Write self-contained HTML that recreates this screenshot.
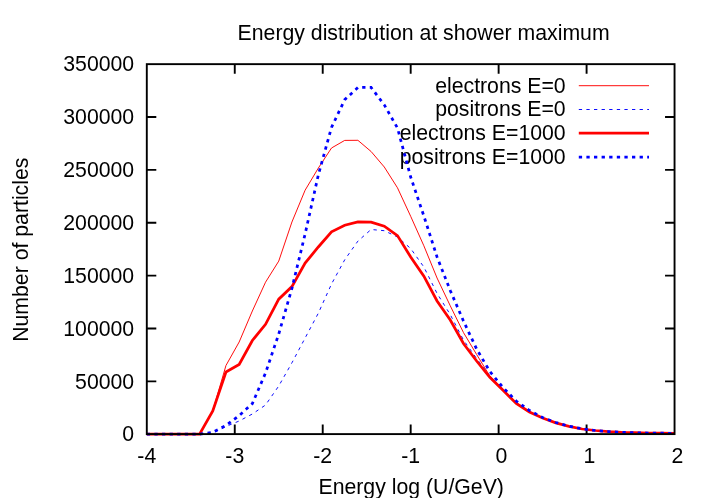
<!DOCTYPE html>
<html><head><meta charset="utf-8"><title>Energy distribution at shower maximum</title>
<style>html,body{margin:0;padding:0;background:#fff;overflow:hidden}body{width:709px;height:498px;position:relative;font-family:"Liberation Sans",sans-serif}</style></head>
<body>
<svg width="709" height="498" viewBox="0 0 709 498" style="position:absolute;left:0;top:0;will-change:transform">
<rect x="0" y="0" width="709" height="498" fill="#fff"/>
<g font-family="&quot;Liberation Sans&quot;, sans-serif" font-size="21.25" fill="#000">
<text x="134.2" y="441.4" text-anchor="end" >0</text>
<text x="134.2" y="388.5" text-anchor="end" >50000</text>
<text x="134.2" y="335.6" text-anchor="end" >100000</text>
<text x="134.2" y="282.7" text-anchor="end" >150000</text>
<text x="134.2" y="229.9" text-anchor="end" >200000</text>
<text x="134.2" y="177.0" text-anchor="end" >250000</text>
<text x="134.2" y="124.1" text-anchor="end" >300000</text>
<text x="134.2" y="71.2" text-anchor="end" >350000</text>
<text x="146.8" y="462.6" text-anchor="middle" >-4</text>
<text x="234.8" y="462.6" text-anchor="middle" >-3</text>
<text x="322.7" y="462.6" text-anchor="middle" >-2</text>
<text x="410.7" y="462.6" text-anchor="middle" >-1</text>
<text x="501.5" y="462.6" text-anchor="middle" >0</text>
<text x="589.5" y="462.6" text-anchor="middle" >1</text>
<text x="677.4" y="462.6" text-anchor="middle" >2</text>
<text x="423.6" y="39.6" text-anchor="middle" >Energy distribution at shower maximum</text>
<text x="411.2" y="494.3" text-anchor="middle" >Energy log (U/GeV)</text>
<text x="565.7" y="92.5" text-anchor="end" >electrons E=0</text>
<text x="565.7" y="116.3" text-anchor="end" >positrons E=0</text>
<text x="565.7" y="140.4" text-anchor="end" >electrons E=1000</text>
<text x="565.7" y="164.4" text-anchor="end" >positrons E=1000</text>
<text transform="translate(27.9,249.7) rotate(-90)" text-anchor="middle">Number of particles</text>
</g>
<path d="M146.80 381.40h9.5M674.55 381.40h-9.5M146.80 328.52h9.5M674.55 328.52h-9.5M146.80 275.65h9.5M674.55 275.65h-9.5M146.80 222.77h9.5M674.55 222.77h-9.5M146.80 169.90h9.5M674.55 169.90h-9.5M146.80 117.02h9.5M674.55 117.02h-9.5M234.76 434.10v-9.5M234.76 64.15v9.5M322.72 434.10v-9.5M322.72 64.15v9.5M410.68 434.10v-9.5M410.68 64.15v9.5M498.63 434.10v-9.5M498.63 64.15v9.5M586.59 434.10v-9.5M586.59 64.15v9.5" stroke="#000" stroke-width="1.9" fill="none"/>
<polyline points="146.80,434.20 159.99,434.20 173.19,434.20 186.38,434.20 199.58,434.20 212.77,410.90 225.96,365.50 239.16,342.00 252.35,311.00 265.54,282.20 278.74,261.10 291.93,222.00 305.12,190.20 318.32,168.10 331.51,148.00 344.71,140.40 357.90,140.30 371.09,151.50 384.29,167.00 397.48,187.80 410.68,216.30 423.87,245.80 437.06,278.00 450.26,305.80 463.45,332.50 476.64,354.50 489.84,376.00 503.03,389.00 516.23,402.50 529.42,411.50 542.61,418.00 555.81,422.90 569.00,426.40 582.19,429.00 595.39,430.50 608.58,431.60 621.78,432.30 634.97,432.70 648.16,433.00 661.36,433.20 674.55,433.30" fill="none" stroke="#ff0000" stroke-width="0.95" stroke-linejoin="miter"/>
<path d="M578.8 85.7H649.0" fill="none" stroke="#ff0000" stroke-width="0.95"/>
<polyline points="146.80,434.20 159.99,434.20 173.19,434.20 186.38,434.20 199.58,434.20 212.77,433.00 225.96,426.50 239.16,421.00 252.35,414.00 265.54,405.00 278.74,386.00 291.93,362.80 305.12,338.00 318.32,313.20 331.51,284.00 344.71,259.80 357.90,241.10 371.09,229.50 384.29,230.70 397.48,237.00 410.68,248.50 423.87,267.00 437.06,293.40 450.26,314.60 463.45,340.00 476.64,358.50 489.84,376.00 503.03,389.50 516.23,402.50 529.42,411.50 542.61,418.00 555.81,422.90 569.00,426.40 582.19,429.00 595.39,430.50 608.58,431.60 621.78,432.30 634.97,432.70 648.16,433.00 661.36,433.20 674.55,433.30" fill="none" stroke="#0000ff" stroke-width="0.95" stroke-linejoin="miter" stroke-dasharray="3.3 4.3"/>
<path d="M578.8 109.5H649.0" fill="none" stroke="#0000ff" stroke-width="0.95" stroke-dasharray="3.3 4.3"/>
<polyline points="146.80,434.20 159.99,434.20 173.19,434.20 186.38,434.20 199.58,434.20 212.77,410.90 225.96,372.00 239.16,364.50 252.35,340.50 265.54,324.30 278.74,299.20 291.93,286.60 305.12,263.10 318.32,247.00 331.51,231.80 344.71,225.20 357.90,221.80 371.09,222.20 384.29,226.20 397.48,235.60 410.68,257.00 423.87,276.20 437.06,301.00 450.26,320.00 463.45,343.50 476.64,361.00 489.84,377.30 503.03,390.30 516.23,403.50 529.42,412.00 542.61,418.00 555.81,422.90 569.00,426.40 582.19,429.00 595.39,430.50 608.58,431.60 621.78,432.30 634.97,432.70 648.16,433.00 661.36,433.20 674.55,433.30" fill="none" stroke="#ff0000" stroke-width="2.75" stroke-linejoin="miter"/>
<path d="M578.8 133.2H649.0" fill="none" stroke="#ff0000" stroke-width="2.75"/>
<polyline points="146.80,434.20 159.99,434.20 173.19,434.20 186.38,434.20 199.58,434.20 212.77,432.30 225.96,425.50 239.16,415.60 252.35,403.60 265.54,373.00 278.74,334.00 291.93,288.30 305.12,234.00 318.32,175.00 331.51,127.40 344.71,99.70 357.90,87.50 371.09,87.40 384.29,104.90 397.48,128.00 410.68,177.00 423.87,216.00 437.06,257.00 450.26,290.50 463.45,321.00 476.64,349.00 489.84,371.50 503.03,387.50 516.23,401.00 529.42,410.50 542.61,417.50 555.81,422.50 569.00,426.20 582.19,428.80 595.39,430.50 608.58,431.60 621.78,432.30 634.97,432.70 648.16,433.00 661.36,433.20 674.55,433.30" fill="none" stroke="#0000ff" stroke-width="2.75" stroke-linejoin="miter" stroke-dasharray="3.3 4.3"/>
<path d="M578.8 157.2H649.0" fill="none" stroke="#0000ff" stroke-width="2.75" stroke-dasharray="3.3 4.3"/>
<rect x="146.80" y="64.15" width="527.75" height="369.95" fill="none" stroke="#000" stroke-width="1.9"/>
</svg>
</body></html>
